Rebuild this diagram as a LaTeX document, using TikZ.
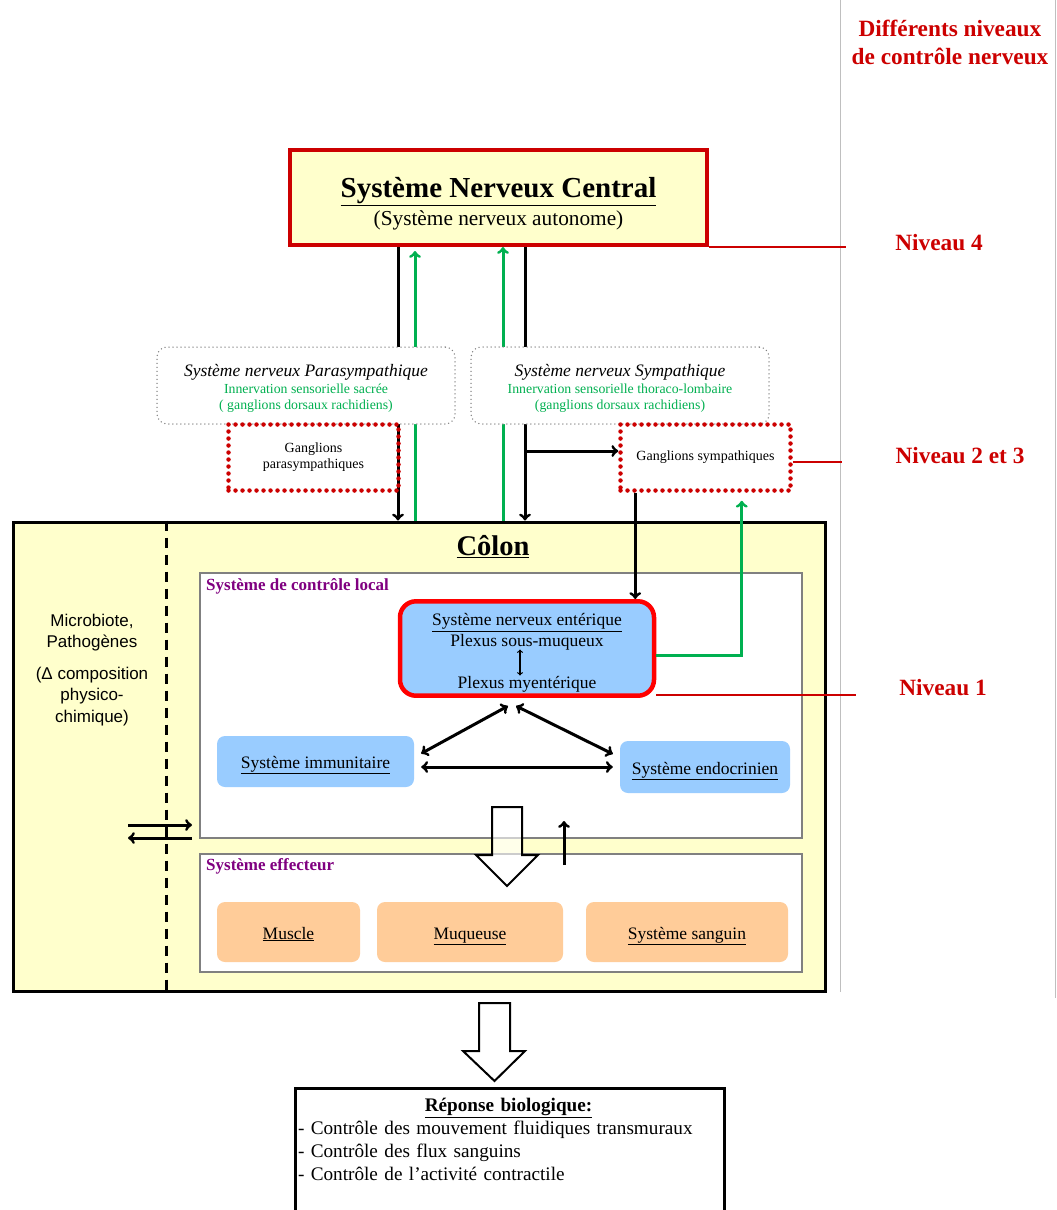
\documentclass[tikz,border=0pt]{standalone}
\usepackage{fontspec}
\setmainfont{Liberation Serif}
\newfontfamily\arialfont{Liberation Sans}
\usetikzlibrary{positioning}
\definecolor{rougef}{HTML}{CC0000}
\definecolor{rougev}{HTML}{FF0000}
\definecolor{vertn}{HTML}{00B050}
\definecolor{jaune}{HTML}{FFFFCC}
\definecolor{bleuc}{HTML}{99CCFF}
\definecolor{peche}{HTML}{FFCC99}
\definecolor{pourpre}{HTML}{800080}
\definecolor{grisc}{HTML}{BFBFBF}

\begin{document}
\begin{tikzpicture}[x=1pt, y=-1pt,
		cnsbox/.style={draw=rougef, line width=4pt, fill=jaune, minimum width=417, minimum height=95, align=center, font=\fontsize{21.3}{28}\selectfont},
		sysbox/.style={draw=gray, fill=white, line width=1.5pt, dash pattern=on 0pt off 4pt, line cap=round, rounded corners=10pt, minimum width=298, minimum height=77, align=center, font=\fontsize{13.8}{16.5}\selectfont},
		gangbox/.style={draw=rougef, line width=4.5pt, dash pattern=on 0pt off 7pt, line cap=round, minimum width=170, minimum height=66, align=center, font=\fontsize{14}{16}\selectfont},
		cadre/.style={draw=gray, line width=2pt, fill=white},
		cellbox/.style={fill=bleuc, rounded corners=8pt, font=\fontsize{17.5}{21}\selectfont},
		oneline/.style={text height=14pt, text depth=0pt},
		effbox/.style={fill=peche, rounded corners=8pt, minimum height=60, oneline, font=\fontsize{17.5}{21}\selectfont},
		titre/.style={font=\fontsize{17}{20}\selectfont\bfseries, text=pourpre, anchor=west, inner sep=0pt},
		niv/.style={font=\fontsize{23.3}{28}\selectfont\bfseries, text=rougef, align=center},
		lvl/.style={draw=rougef, line width=2pt},
		nerf/.style={line width=3pt},
		sens/.style={line width=3pt, draw=vertn},
		hollow/.style={draw=black, line width=2pt, fill=white, fill opacity=0.6, line join=miter}]
	\useasboundingbox (0,0) rectangle (1057,1210);

	% guides of the levels column
	\draw[grisc, line width=1pt] (840,0) -- (840,992);
	\draw[grisc, line width=1pt] (1055,0) -- (1055,998);
	\node[niv] (ttl) at (950,42) {Différents niveaux\\de contrôle nerveux};

	% central level
	\node[cnsbox] (snc) at (498.5,197.5) {\rule{0pt}{32pt}{\fontsize{29}{28}\selectfont\bfseries\underline{Système Nerveux Central}}\\(Système nerveux autonome)};

	% colon
	\node[draw, line width=3pt, fill=jaune, minimum width=812, minimum height=469] (colon) at (419,756.5) {};
	\draw[line width=2.5pt, dash pattern=on 10pt off 7pt] ([xshift=155pt]colon.north west) -- ([xshift=155pt]colon.south west);
	\node[font=\fontsize{28.5}{30}\selectfont\bfseries] (ctitle) at (493,547) {\underline{Côlon}};
	\node[align=center, font=\arialfont\fontsize{17}{21.5}\selectfont] (micro) at (92,670) {Microbiote,\\Pathogènes\\[10pt](Δ composition\\physico-\\chimique)};

	\node[cadre, minimum width=602, minimum height=265] (local) at (501,705.5) {};
	\node[titre] (tlocal) at ([xshift=7pt,yshift=-14pt]local.north west) {Système de contrôle local};
	\node[cadre, minimum width=602, minimum height=118] (eff) at (501,913) {};
	\node[titre] (teff) at ([xshift=7pt,yshift=-13pt]eff.north west) {Système effecteur};

	\node[cellbox, draw=rougev, line width=4.5pt, rounded corners=16pt, minimum width=254, minimum height=93, align=center] (sne) at (527,648.5) {\rule{0pt}{21pt}\underline{Système nerveux entérique}\\Plexus sous-muqueux\\[21pt]Plexus myentérique};
	\node[cellbox, oneline, minimum width=197, minimum height=51] (immun) at (315.5,761.5) {\underline{Système immunitaire}};
	\node[cellbox, oneline, minimum width=170, minimum height=52] (endo) at (705,767) {\underline{Système endocrinien}};

	\node[effbox, minimum width=143] (muscle) at (288.5,932) {\underline{Muscle}};
	\node[effbox, minimum width=186] (muq) at (470,932) {\underline{Muqueuse}};
	\node[effbox, minimum width=202] (sang) at (687,932) {\underline{Système sanguin}};

	% nerve pathways from the centre
	\draw[nerf, ->] ([xshift=-100.5pt]snc.south) -- ([xshift=-100.5pt]snc.south |- colon.north);
	\draw[sens, ->] ([xshift=-83.5pt]snc.south |- colon.north) -- ([xshift=-83.5pt,yshift=-4pt]snc.south);
	\draw[sens, ->] ([xshift=4.5pt]snc.south |- colon.north) -- ([xshift=4.5pt]snc.south);
	\draw[nerf, ->] ([xshift=26.5pt]snc.south) -- ([xshift=26.5pt]snc.south |- colon.north);

	% autonomous pathways
	\node[sysbox] (para) at (306,385.5) {\rule{0pt}{18pt}{\fontsize{17.5}{18}\selectfont\itshape Système nerveux Parasympathique}\\\color{vertn}Innervation sensorielle sacrée\\\color{vertn}( ganglions dorsaux rachidiens)};
	\node[sysbox] (sym) at (620,385.5) {\rule{0pt}{18pt}{\fontsize{17.5}{18}\selectfont\itshape Système nerveux Sympathique}\\\color{vertn}Innervation sensorielle thoraco-lombaire\\\color{vertn}(ganglions dorsaux rachidiens)};
	\node[gangbox] (gpara) at (313.5,457.5) {Ganglions\\parasympathiques};
	\node[gangbox] (gsym) at (705.5,457.5) {Ganglions sympathiques};

	\coordinate (gs) at ([yshift=6.5pt]gsym.west);
	\draw[nerf, ->] ([xshift=26.5pt]snc.south |- gs) -- (gs);
	\draw[nerf, ->] ([xshift=17pt]gsym.south west) -- ([xshift=17pt]gsym.south west |- sne.north);
	\draw[sens, ->, shorten >=8pt] ([yshift=-6.5pt]sne.east) -| ([xshift=-51pt]gsym.south east);

	% biological response
	\node[draw, line width=3pt, fill=white, minimum width=429, minimum height=160, anchor=north] (rep) at (509.5,1087) {};
	\node[anchor=north west, text width=421, align=left, font=\fontsize{19.2}{23}\selectfont] (reptxt) at ([xshift=1pt,yshift=-8pt]rep.north west) {\makebox[\linewidth][c]{\bfseries\underline{Réponse biologique:}}\\- Contrôle des mouvement fluidiques transmuraux\\- Contrôle des flux sanguins\\- Contrôle de l’activité contractile};

	% levels
	\node[niv] (n4) at (939,243) {Niveau 4};
	\node[niv] (n23) at (960,456) {Niveau 2 et 3};
	\node[niv] (n1) at (943,688) {Niveau 1};
	\draw[lvl, shorten >=46pt] (snc.south east) -- (snc.south east -| n4.west);
	\draw[lvl, shorten >=50pt] ([yshift=-4pt]gsym.east) -- ([yshift=-4pt]gsym.east -| n23.west);
	\draw[lvl, shorten >=40pt] ([yshift=3pt]sne.south east) -- ([yshift=3pt]sne.south east -| n1.west);

	% local interactions
	\draw[line width=1.2pt, <->] ([xshift=-7pt,yshift=-1pt]sne.center) -- ([xshift=-7pt,yshift=-27pt]sne.center);
	\draw[nerf, <->] ([xshift=-19pt,yshift=-8pt]sne.south) -- ([xshift=7pt,yshift=8pt]immun.east);
	\draw[nerf, <->] ([xshift=-11pt,yshift=-8pt]sne.south) -- ([xshift=-7pt,yshift=13pt]endo.west);
	\draw[nerf, <->] ([xshift=7pt]immun.east |- endo.west) -- ([xshift=-7pt]endo.west);

	% exchanges with the lumen
	\coordinate (ex1) at (128,825);
	\coordinate (ex2) at (192,825);
	\coordinate (ex3) at (192,838);
	\coordinate (ex4) at (128,838);
	\draw[nerf, ->] (ex1) -- (ex2);
	\draw[nerf, ->] (ex3) -- (ex4);

	% towards the effectors and the response
	\draw[hollow] (492,807) -- (522,807) -- (522,855) -- (538,855) -- (507,886) -- (476,855) -- (492,855) -- cycle;
	\coordinate (up1) at (564,865);
	\coordinate (up2) at (564,821);
	\draw[nerf, ->] (up1) -- (up2);
	\draw[hollow, fill opacity=1] (479,1003) -- (510,1003) -- (510,1051) -- (525,1051) -- (494.5,1081) -- (463,1051) -- (479,1051) -- cycle;
\end{tikzpicture}
\end{document}
